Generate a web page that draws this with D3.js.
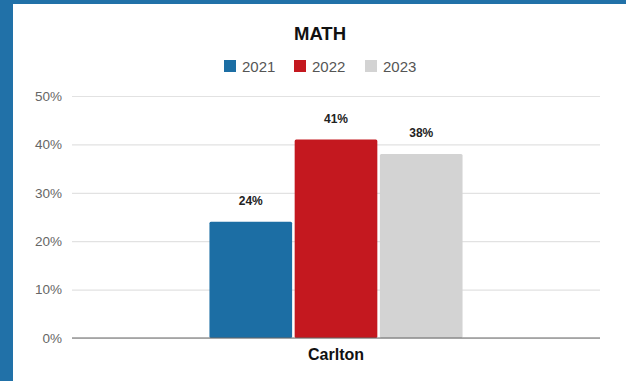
<!DOCTYPE html>
<html>
<head>
<meta charset="utf-8">
<script src="https://cdn.jsdelivr.net/npm/d3@7"></script>
<style>
  html, body { margin: 0; padding: 0; background: #fff; }
  svg { display: block; font-family: "Liberation Sans", Arial, sans-serif; }
</style>
</head>
<body>
<div id="chart"></div>
<script>
// data
const categories = ["Carlton"];
const years = ["2021", "2022", "2023"];
const values2021 = [24];
const values2022 = [41];
const values2023 = [38];
const yTicks = [0, 10, 20, 30, 40, 50];
const colors = ["#1c6ea4", "#c4181f", "#d3d3d3"];

const series = [values2021, values2022, values2023];

const W = 626, H = 381;
const margin = { top: 96, right: 26, bottom: 43, left: 72 };

const svg = d3.select("#chart").append("svg")
    .attr("width", W)
    .attr("height", H);

// blue frame
svg.append("rect").attr("x", 0).attr("y", 0).attr("width", W).attr("height", 4).attr("fill", "#2171a8");
svg.append("rect").attr("x", 0).attr("y", 0).attr("width", 13).attr("height", H).attr("fill", "#2171a8");

const x0 = d3.scaleBand()
    .domain(categories)
    .range([margin.left, W - margin.right])
    .paddingInner(0)
    .paddingOuter(0.543);

const x1 = d3.scaleBand()
    .domain(years)
    .range([0, x0.bandwidth()])
    .paddingInner(0.03);

const y = d3.scaleLinear()
    .domain([0, 50])
    .range([H - margin.bottom, margin.top]);

// grid + y labels
const yAxis = svg.append("g")
    .attr("transform", `translate(${margin.left},0)`)
    .call(d3.axisLeft(y)
        .tickValues(yTicks)
        .tickSize(-(W - margin.left - margin.right))
        .tickPadding(10)
        .tickFormat(d => d + "%"));
yAxis.select(".domain").remove();
yAxis.selectAll(".tick line").attr("stroke", "#e2e2e2").attr("stroke-width", 1.2);
yAxis.selectAll(".tick text")
    .attr("fill", "#666")
    .style("font-size", "13.5px");

// bars
const groups = svg.selectAll(".cat")
    .data(categories)
    .enter()
    .append("g")
    .attr("class", "cat")
    .attr("transform", d => `translate(${x0(d)},0)`);

years.forEach((yr, j) => {
    groups.append("rect")
        .attr("x", x1(yr))
        .attr("y", (d, i) => y(series[j][i]))
        .attr("width", x1.bandwidth())
        .attr("height", (d, i) => y(0) - y(series[j][i]))
        .attr("rx", 1.5)
        .attr("fill", colors[j]);

    groups.append("text")
        .attr("x", x1(yr) + x1.bandwidth() / 2)
        .attr("y", (d, i) => y(series[j][i]) - 17)
        .attr("text-anchor", "middle")
        .attr("font-size", "12px")
        .attr("font-weight", "bold")
        .attr("fill", "#222")
        .text((d, i) => series[j][i] + "%");
});

// baseline
svg.append("line")
    .attr("x1", margin.left)
    .attr("x2", W - margin.right)
    .attr("y1", y(0))
    .attr("y2", y(0))
    .attr("stroke", "#666")
    .attr("stroke-width", 1.2);

// x labels
const xAxis = svg.append("g")
    .attr("transform", `translate(0,${y(0)})`)
    .call(d3.axisBottom(x0).tickSize(0).tickPadding(11));
xAxis.select(".domain").remove();
xAxis.selectAll("text")
    .attr("fill", "#111")
    .style("font-size", "16px")
    .style("font-weight", "bold");

// title
svg.append("text")
    .attr("x", 320)
    .attr("y", 40)
    .attr("text-anchor", "middle")
    .attr("font-size", "18.5px")
    .attr("font-weight", "bold")
    .attr("fill", "#111")
    .text("MATH");

// legend
const legendX = [224, 294, 365];
const legend = svg.append("g").attr("class", "legend");
years.forEach((yr, j) => {
    const item = legend.append("g").attr("transform", `translate(${legendX[j]}, 60)`);
    item.append("rect")
        .attr("width", 12)
        .attr("height", 12)
        .attr("fill", colors[j]);
    item.append("text")
        .attr("x", 18)
        .attr("y", 6.5)
        .attr("dy", "0.35em")
        .attr("font-size", "15px")
        .attr("fill", "#555")
        .text(yr);
});
</script>
</body>
</html>
